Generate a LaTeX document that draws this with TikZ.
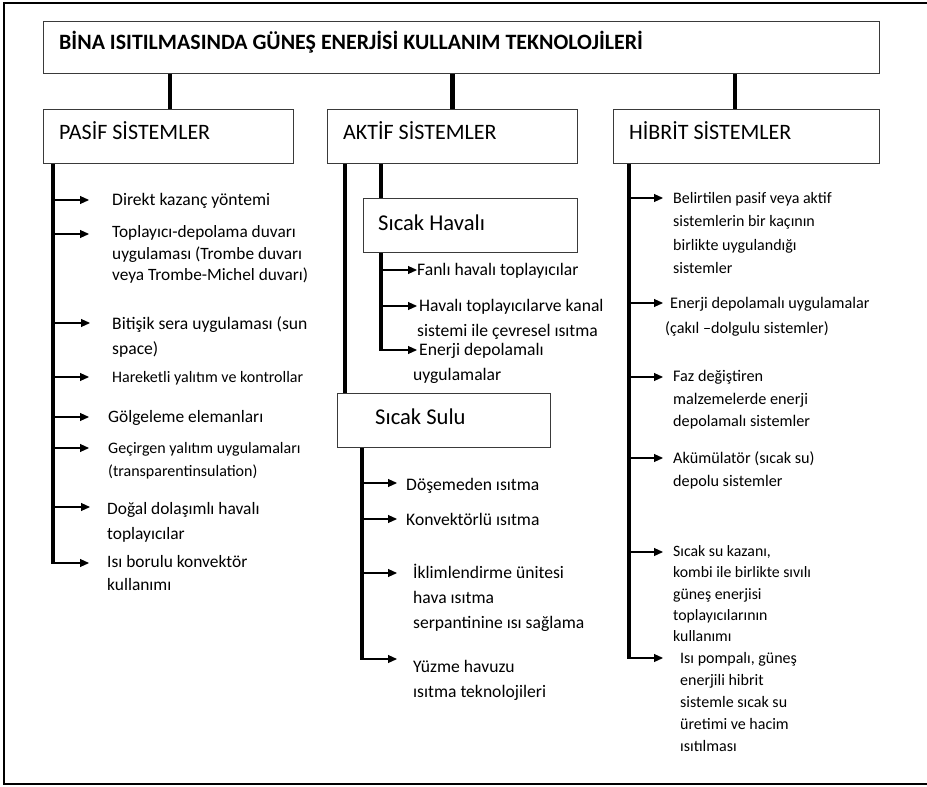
\documentclass[tikz,border=0pt]{standalone}
\usepackage{fontspec}
\setmainfont{Carlito}
\usetikzlibrary{arrows.meta}
\definecolor{boxgray}{HTML}{3A3A3A}
\newcommand{\ml}[3]{{\fontsize{#1}{#2}\selectfont\begin{tabular}[t]{@{}l@{}}#3\end{tabular}}}
\tikzset{
  box/.style={draw=boxgray, line width=1.1pt, inner sep=0pt, anchor=north west, minimum height=54pt},
  hdr/.style={anchor=base west, inner sep=0pt, font=\fontsize{22}{26}\selectfont},
  itm/.style={anchor=base west, inner sep=0pt},
  conn/.style={line width=4.5pt, black},
  trunk/.style={line width=4pt, black},
  arr/.style={line width=1.1pt, black, -{Triangle[length=9pt,width=8pt]}},
  frameline/.style={line width=2.2pt, black}
}
\begin{document}
\begin{tikzpicture}[x=1pt,y=-1pt]
\useasboundingbox (0,0) rectangle (927,787);
\draw[frameline] (940,3) -- (4,3) -- (4,784) -- (940,784);

% title and main boxes
\node[box, minimum width=836pt, minimum height=52pt] (title) at (43,21) {};
\node[hdr, font=\fontsize{21.9}{26}\selectfont\bfseries] (titlet) at (59,49.5) {BİNA ISITILMASINDA GÜNEŞ ENERJİSİ KULLANIM TEKNOLOJİLERİ};

\node[box, minimum width=250pt] (pasif) at (43,109) {};
\node[hdr] (pasift) at (59,139.5) {PASİF SİSTEMLER};
\node[box, minimum width=250pt] (aktif) at (327,109) {};
\node[hdr] (aktift) at (343,139.5) {AKTİF SİSTEMLER};
\node[box, minimum width=266pt] (hibrit) at (613,109) {};
\node[hdr] (hibritt) at (629,139.5) {HİBRİT SİSTEMLER};

\node[box, minimum width=214pt] (havali) at (363,198) {};
\node[hdr, font=\fontsize{22.6}{26}\selectfont] (havalit) at (378,230.5) {Sıcak Havalı};
\node[box, minimum width=213pt] (sulu) at (337,393) {};
\node[hdr, font=\fontsize{22.6}{26}\selectfont] (sulut) at (375,424.5) {Sıcak Sulu};

% helper x positions
\coordinate (xp) at (170,0);
\coordinate (xh) at (735,0);
\coordinate (tp) at (53,0);
\coordinate (ta) at (345,0);
\coordinate (tb) at (381,0);
\coordinate (ts) at (362,0);
\coordinate (th) at (629,0);

% title connectors
\draw[conn] (title.south -| xp) -- (pasif.north -| xp);
\draw[conn] (title.south -| aktif.north) -- (aktif.north);
\draw[conn] (title.south -| xh) -- (hibrit.north -| xh);

% ---------- PASIF ----------
\coordinate (a1) at (89,200);
\coordinate (a2) at (89,234);
\coordinate (a3) at (90,323);
\coordinate (a4) at (89,377);
\coordinate (a5) at (89,417);
\coordinate (a6) at (89,448);
\coordinate (a7) at (90,507);
\coordinate (a8) at (89,563);
\draw[trunk] (pasif.south -| tp) -- ([yshift=-0.6pt]tp |- a8);
\foreach \k in {1,...,8} \draw[arr] (tp |- a\k) -- (a\k);

\node[itm] (p1) at (112,205.5) {\ml{17.6}{20}{Direkt kazanç yöntemi}};
\node[itm] (p2) at (112,237.5) {\ml{17.3}{21.5}{Toplayıcı-depolama duvarı\\uygulaması (Trombe duvarı\\veya Trombe-Michel duvarı)}};
\node[itm] (p3) at (112,329) {\ml{17.6}{25}{Bitişik sera uygulaması (sun\\space)}};
\node[itm] (p4) at (112,382) {\ml{16}{20}{Hareketli yalıtım ve kontrollar}};
\node[itm] (p5) at (108,422) {\ml{17.4}{20}{Gölgeleme elemanları}};
\node[itm] (p6) at (108,453) {\ml{16}{23}{Geçirgen yalıtım uygulamaları\\(transparentinsulation)}};
\node[itm] (p7) at (107,514) {\ml{17.4}{25}{Doğal dolaşımlı havalı\\toplayıcılar}};
\node[itm] (p8) at (107,567) {\ml{17.4}{23}{Isı borulu konvektör\\kullanımı}};

% ---------- AKTIF ----------
\draw[trunk] (aktif.south -| ta) -- (sulu.north -| ta);
\draw[trunk] (aktif.south -| tb) -- (havali.north -| tb);

\coordinate (b1) at (417,270);
\coordinate (b2) at (417,306);
\coordinate (b3) at (417,350);
\draw[trunk] (havali.south -| tb) -- ([yshift=-0.6pt]tb |- b3);
\foreach \k in {1,2,3} \draw[arr] (tb |- b\k) -- (b\k);

\node[itm] (h1) at (417,275) {\ml{17.6}{20}{Fanlı havalı toplayıcılar}};
\node[itm] (h2) at (419,311) {\ml{17.6}{25.5}{Havalı toplayıcılarve kanal\\\hspace*{-2pt}sistemi ile çevresel ısıtma}};
\node[itm] (h3) at (419,355.5) {\ml{17.6}{25}{Enerji depolamalı\\\hspace*{-6pt}uygulamalar}};

\coordinate (s1) at (397,483);
\coordinate (s2) at (397,519);
\coordinate (s3) at (397,573);
\coordinate (s4) at (397,659);
\draw[trunk] (sulu.south -| ts) -- ([yshift=-0.6pt]ts |- s4);
\foreach \k in {1,...,4} \draw[arr] (ts |- s\k) -- (s\k);

\node[itm] (w1) at (406,490) {\ml{17.6}{20}{Döşemeden ısıtma}};
\node[itm] (w2) at (406,525) {\ml{17.6}{20}{Konvektörlü ısıtma}};
\node[itm] (w3) at (413,578.5) {\ml{17.6}{25}{İklimlendirme ünitesi\\hava ısıtma\\serpantinine ısı sağlama}};
\node[itm] (w4) at (413,672.5) {\ml{17.6}{24.5}{Yüzme havuzu\\ısıtma teknolojileri}};

% ---------- HIBRIT ----------
\coordinate (c1) at (663,198);
\coordinate (c2) at (663,303);
\coordinate (c3) at (663,377);
\coordinate (c4) at (663,458);
\coordinate (c5) at (663,552);
\coordinate (c6) at (663,658);
\draw[trunk] (hibrit.south -| th) -- ([yshift=-0.6pt]th |- c6);
\foreach \k in {1,...,6} \draw[arr] (th |- c\k) -- (c\k);

\node[itm] (r1) at (673,203.5) {\ml{16}{23.3}{Belirtilen pasif veya aktif\\sistemlerin bir kaçının\\birlikte uygulandığı\\sistemler}};
\node[itm] (r2) at (670,308.5) {\ml{16.2}{24.5}{Enerji depolamalı uygulamalar\\\hspace*{-5pt}(çakıl –dolgulu sistemler)}};
\node[itm] (r3) at (673,381.5) {\ml{16.2}{22.5}{Faz değiştiren\\malzemelerde enerji\\depolamalı sistemler}};
\node[itm] (r4) at (673,463) {\ml{16.2}{23.5}{Akümülatör (sıcak su)\\depolu sistemler}};
\node[itm] (r5) at (673,556.5) {\ml{15.8}{21.3}{Sıcak su kazanı,\\kombi ile birlikte sıvılı\\güneş enerjisi\\toplayıcılarının\\kullanımı}};
\node[itm] (r6) at (680,663) {\ml{16}{22.1}{Isı pompalı, güneş\\enerjili hibrit\\sistemle sıcak su\\üretimi ve hacim\\ısıtılması}};
\end{tikzpicture}
\end{document}
